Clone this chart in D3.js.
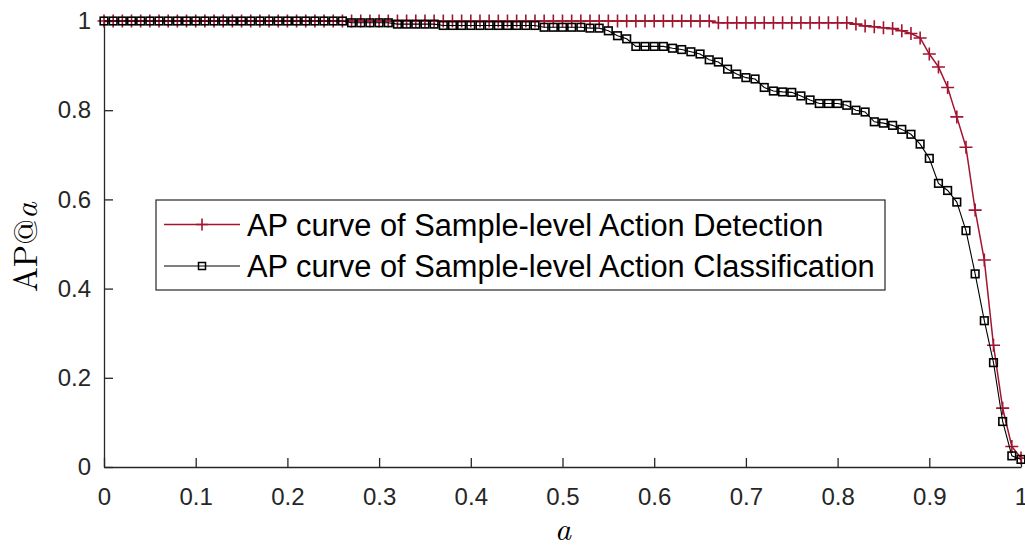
<!DOCTYPE html>
<html>
<head>
<meta charset="utf-8">
<script src="https://cdn.jsdelivr.net/npm/d3@7"></script>
<style>
  body { margin: 0; background: #fff; }
  svg { display: block; }
</style>
</head>
<body>
<figure style="margin:0"></figure>
<script>
// a thresholds (x values)
const aValues = [
  0.00, 0.01, 0.02, 0.03, 0.04, 0.05, 0.06, 0.07, 0.08, 0.09,
  0.10, 0.11, 0.12, 0.13, 0.14, 0.15, 0.16, 0.17, 0.18, 0.19,
  0.20, 0.21, 0.22, 0.23, 0.24, 0.25, 0.26, 0.27, 0.28, 0.29,
  0.30, 0.31, 0.32, 0.33, 0.34, 0.35, 0.36, 0.37, 0.38, 0.39,
  0.40, 0.41, 0.42, 0.43, 0.44, 0.45, 0.46, 0.47, 0.48, 0.49,
  0.50, 0.51, 0.52, 0.53, 0.54, 0.55, 0.56, 0.57, 0.58, 0.59,
  0.60, 0.61, 0.62, 0.63, 0.64, 0.65, 0.66, 0.67, 0.68, 0.69,
  0.70, 0.71, 0.72, 0.73, 0.74, 0.75, 0.76, 0.77, 0.78, 0.79,
  0.80, 0.81, 0.82, 0.83, 0.84, 0.85, 0.86, 0.87, 0.88, 0.89,
  0.90, 0.91, 0.92, 0.93, 0.94, 0.95, 0.96, 0.97, 0.98, 0.99,
  1.00
];

// AP curve of Sample-level Action Detection
const detectionAP = [
  1, 1, 1, 1, 1, 1, 1, 1, 1, 1,
  1, 1, 1, 1, 1, 1, 1, 1, 1, 1,
  1, 1, 1, 1, 1, 1, 1, 1, 1, 1,
  1, 1, 1, 1, 1, 1, 1, 1, 1, 1,
  1, 1, 1, 1, 1, 1, 1, 1, 1, 1,
  1, 1, 1, 1, 1, 1, 1, 1, 1, 1,
  1, 1, 1, 1, 1, 1, 1, 0.996, 0.996, 0.996,
  0.996, 0.996, 0.996, 0.996, 0.996, 0.996, 0.996, 0.996, 0.996, 0.996,
  0.996, 0.996, 0.993, 0.989, 0.987, 0.985, 0.983, 0.978, 0.972, 0.962,
  0.926, 0.897, 0.851, 0.785, 0.717, 0.576, 0.464, 0.273, 0.132, 0.046,
  0.020
];

// AP curve of Sample-level Action Classification
const classificationAP = [
  1, 1, 1, 1, 1, 1, 1, 1, 1, 1,
  1, 1, 1, 1, 1, 1, 1, 1, 1, 1,
  1, 1, 1, 1, 1, 1, 1, 0.996, 0.996, 0.996,
  0.996, 0.996, 0.993, 0.993, 0.993, 0.993, 0.993, 0.990, 0.990, 0.990,
  0.990, 0.990, 0.990, 0.990, 0.990, 0.990, 0.990, 0.990, 0.986, 0.986,
  0.986, 0.986, 0.986, 0.984, 0.984, 0.978, 0.967, 0.960, 0.943, 0.943,
  0.943, 0.943, 0.939, 0.936, 0.931, 0.926, 0.913, 0.908, 0.892, 0.881,
  0.873, 0.870, 0.851, 0.843, 0.841, 0.840, 0.832, 0.823, 0.815, 0.815,
  0.815, 0.811, 0.800, 0.796, 0.774, 0.771, 0.766, 0.757, 0.746, 0.724,
  0.692, 0.636, 0.620, 0.594, 0.530, 0.433, 0.328, 0.234, 0.102, 0.025,
  0.017
];

const seriesNames = [
  "AP curve of Sample-level Action Detection",
  "AP curve of Sample-level Action Classification"
];

const xTicks = [0, 0.1, 0.2, 0.3, 0.4, 0.5, 0.6, 0.7, 0.8, 0.9, 1];
const xTickLabels = ["0", "0.1", "0.2", "0.3", "0.4", "0.5", "0.6", "0.7", "0.8", "0.9", "1"];
const yTicks = [0, 0.2, 0.4, 0.6, 0.8, 1];
const yTickLabels = ["0", "0.2", "0.4", "0.6", "0.8", "1"];

const width = 1025;
const height = 546;
const axisColor = "#262626";
const red = "#A2142F";
const sansFont = "'Liberation Sans', Arial, Helvetica, sans-serif";
const serifFont = "'Latin Modern Roman', 'CMU Serif', 'DejaVu Serif', 'Liberation Serif', serif";

const svg = d3.select("figure")
  .append("svg")
  .attr("width", width)
  .attr("height", height);

const x = d3.scaleLinear().domain([0, 1]).range([104, 1021]);
const y = d3.scaleLinear().domain([0, 1]).range([467, 21]);

// axes (ticks point inward, no box)
const xAxis = svg.append("g")
  .attr("transform", "translate(0," + y(0) + ")")
  .call(d3.axisBottom(x)
    .tickValues(xTicks)
    .tickFormat((d, i) => xTickLabels[i])
    .tickSizeInner(-9)
    .tickSizeOuter(0)
    .tickPadding(21));

const yAxis = svg.append("g")
  .attr("transform", "translate(" + x(0) + ",0)")
  .call(d3.axisLeft(y)
    .tickValues(yTicks)
    .tickFormat((d, i) => yTickLabels[i])
    .tickSizeInner(-9)
    .tickSizeOuter(0)
    .tickPadding(13));

[xAxis, yAxis].forEach(g => {
  g.select(".domain").attr("stroke", axisColor).attr("stroke-width", 1.3);
  g.selectAll(".tick line").attr("stroke", axisColor).attr("stroke-width", 1.3);
  g.selectAll(".tick text")
    .attr("fill", axisColor)
    .style("font-family", sansFont)
    .style("font-size", "24px");
});

// axis labels
const yLabel = svg.append("text")
  .attr("transform", "translate(37,247) rotate(-90)")
  .attr("text-anchor", "middle")
  .style("font-family", serifFont)
  .style("font-size", "33px")
  .attr("fill", "#000");
yLabel.append("tspan").text("AP@");
yLabel.append("tspan").style("font-style", "italic").text("a");

svg.append("text")
  .attr("x", 563)
  .attr("y", 540)
  .attr("text-anchor", "middle")
  .style("font-family", serifFont)
  .style("font-size", "32px")
  .style("font-style", "italic")
  .attr("fill", "#000")
  .text("a");

const detData = aValues.map((a, i) => ({ a: a, v: detectionAP[i] }));
const clsData = aValues.map((a, i) => ({ a: a, v: classificationAP[i] }));

const line = d3.line()
  .x(d => x(d.a))
  .y(d => y(d.v));

// detection curve (red, + markers)
svg.append("path")
  .datum(detData)
  .attr("d", line)
  .attr("fill", "none")
  .attr("stroke", red)
  .attr("stroke-width", 1.5);

const plusSize = 6.5;
const plusPath = (cx, cy, s) =>
  "M" + (cx - s) + "," + cy + "H" + (cx + s) + "M" + cx + "," + (cy - s) + "V" + (cy + s);

svg.append("g")
  .selectAll("path")
  .data(detData)
  .enter()
  .append("path")
  .attr("d", d => plusPath(x(d.a), y(d.v), plusSize))
  .attr("fill", "none")
  .attr("stroke", red)
  .attr("stroke-width", 1.6);

// classification curve (black, square markers)
svg.append("path")
  .datum(clsData)
  .attr("d", line)
  .attr("fill", "none")
  .attr("stroke", "#000")
  .attr("stroke-width", 1.1);

const sq = 7.6;
svg.append("g")
  .selectAll("rect")
  .data(clsData)
  .enter()
  .append("rect")
  .attr("x", d => x(d.a) - sq / 2)
  .attr("y", d => y(d.v) - sq / 2)
  .attr("width", sq)
  .attr("height", sq)
  .attr("fill", "none")
  .attr("stroke", "#000")
  .attr("stroke-width", 1.6);

// legend
const legend = svg.append("g");
legend.append("rect")
  .attr("x", 156)
  .attr("y", 200)
  .attr("width", 729)
  .attr("height", 90)
  .attr("fill", "#fff")
  .attr("stroke", axisColor)
  .attr("stroke-width", 1.2);

const rowY = [224.5, 266];
legend.append("line")
  .attr("x1", 164).attr("x2", 240)
  .attr("y1", rowY[0]).attr("y2", rowY[0])
  .attr("stroke", red).attr("stroke-width", 1.5);
legend.append("path")
  .attr("d", plusPath(202, rowY[0], 6))
  .attr("stroke", red).attr("stroke-width", 1.6);
legend.append("line")
  .attr("x1", 164).attr("x2", 240)
  .attr("y1", rowY[1]).attr("y2", rowY[1])
  .attr("stroke", "#000").attr("stroke-width", 1.1);
legend.append("rect")
  .attr("x", 202 - 3.5).attr("y", rowY[1] - 3.5)
  .attr("width", 7).attr("height", 7)
  .attr("fill", "none")
  .attr("stroke", "#000").attr("stroke-width", 1.5);

legend.selectAll("text.lbl")
  .data(seriesNames)
  .enter()
  .append("text")
  .attr("class", "lbl")
  .attr("x", 247)
  .attr("y", (d, i) => rowY[i])
  .attr("dy", "0.36em")
  .style("font-family", sansFont)
  .style("font-size", "30.8px")
  .attr("fill", "#000")
  .text(d => d);
</script>
</body>
</html>
